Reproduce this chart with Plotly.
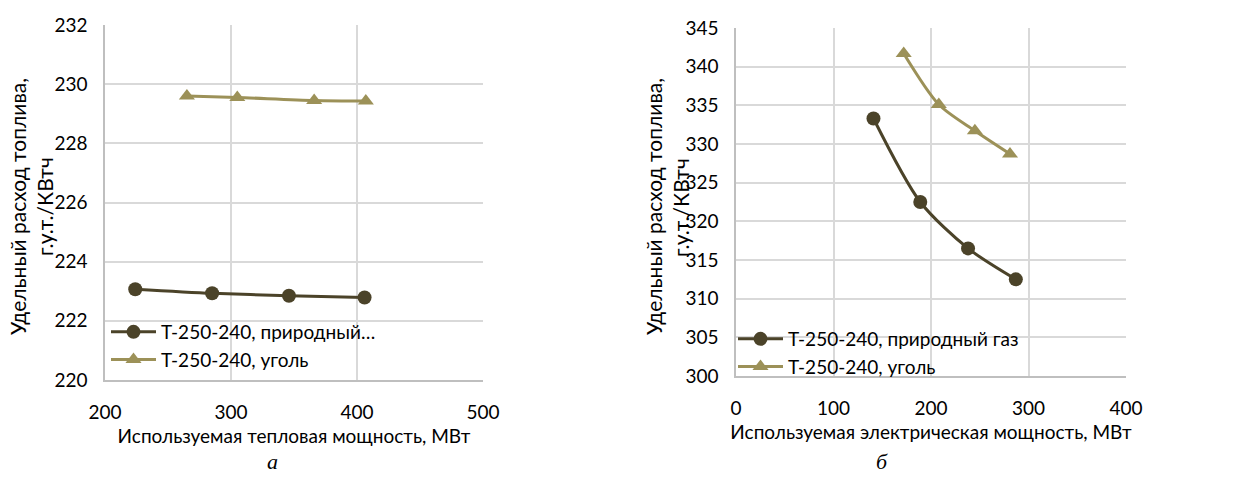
import plotly.graph_objects as go

# Left chart (a): heat power
heat_gas_x = [224, 285, 346, 406]
heat_gas_y = [223.07, 222.93, 222.85, 222.79]
heat_coal_x = [265, 305, 366, 407]
heat_coal_y = [229.60, 229.55, 229.45, 229.43]

# Right chart (б): electric power
el_gas_x = [141, 189, 238, 287]
el_gas_y = [333.3, 322.5, 316.5, 312.5]
el_coal_x = [172, 208, 245, 281]
el_coal_y = [341.7, 335.1, 331.7, 328.7]

name_gas_left = "Т-250-240, природный…"
name_gas = "Т-250-240, природный газ"
name_coal = "Т-250-240, уголь"

ytitle_1 = "Удельный расход топлива,"
ytitle_2 = "г.у.т./КВтч"

C_GAS = "#4B4329"
C_COAL = "#9C9158"
FONT = "Lato"
GRID = "#D9D9D9"

fig = go.Figure()

def add(x, y, name, color, symbol, xa, ya, legend):
    fig.add_trace(go.Scatter(
        x=x, y=y, name=name, mode="lines+markers",
        line=dict(color=color, width=3, shape="spline", smoothing=0.8),
        marker=dict(color=color, symbol=symbol, size=14),
        xaxis=xa, yaxis=ya, legend=legend))

add(heat_gas_x, heat_gas_y, name_gas_left, C_GAS, "circle", "x", "y", "legend")
add(heat_coal_x, heat_coal_y, name_coal, C_COAL, "triangle-up", "x", "y", "legend")
add(el_gas_x, el_gas_y, name_gas, C_GAS, "circle", "x2", "y2", "legend2")
add(el_coal_x, el_coal_y, name_coal, C_COAL, "triangle-up", "x2", "y2", "legend2")

ax_common = dict(showgrid=True, gridcolor=GRID, gridwidth=1.5, zeroline=False,
                 showline=True, linecolor="#BFBFBF", linewidth=1.5, ticks="",
                 automargin=False,
                 tickfont=dict(family=FONT, size=19, color="#000"))

W, H = 1237, 477

def ytitle_ann(text, px, py=207):
    return dict(text=text, x=px / W, y=1 - py / H, xref="paper", yref="paper",
                showarrow=False, textangle=-90, xanchor="center", yanchor="middle",
                font=dict(family=FONT, size=21, color="#000"))

fig.update_layout(
    width=W, height=H,
    margin=dict(l=0, r=0, t=0, b=0, autoexpand=False),
    paper_bgcolor="white", plot_bgcolor="white",
    font=dict(family=FONT, color="#000"),
    xaxis=dict(domain=[105/W, 483/W], range=[200, 500], dtick=100,
               anchor="y", ticklabelstandoff=14,
               title=dict(text="Используемая тепловая мощность, МВт",
                          font=dict(family=FONT, size=19), standoff=8),
               **ax_common),
    yaxis=dict(domain=[1-380/H, 1-25/H], range=[220, 232], dtick=2,
               anchor="x", ticklabelstandoff=12, **ax_common),
    xaxis2=dict(domain=[736/W, 1126/W], range=[0, 400], dtick=100,
                anchor="y2", ticklabelstandoff=14,
                title=dict(text="Используемая электрическая мощность, МВт",
                           font=dict(family=FONT, size=19), standoff=8),
                **ax_common),
    yaxis2=dict(domain=[1-376/H, 1-28/H], range=[300, 345], dtick=5,
                anchor="x2", ticklabelstandoff=12, **ax_common),
    legend=dict(x=106/W, y=1-313/H, xanchor="left", yanchor="top",
                bgcolor="rgba(0,0,0,0)", font=dict(family=FONT, size=19),
                tracegroupgap=0, itemwidth=45),
    legend2=dict(x=733/W, y=1-320/H, xanchor="left", yanchor="top",
                 bgcolor="rgba(0,0,0,0)", font=dict(family=FONT, size=19),
                 tracegroupgap=0, itemwidth=45),
    annotations=[
        ytitle_ann(ytitle_1, 17),
        ytitle_ann(ytitle_2, 44),
        ytitle_ann(ytitle_1, 653),
        ytitle_ann(ytitle_2, 680),
        dict(text="<i>а</i>", x=265/W, y=1-461/H, xref="paper", yref="paper",
             showarrow=False, font=dict(family="Liberation Serif", size=22),
             yanchor="middle"),
        dict(text="<i>б</i>", x=890/W, y=1-461/H, xref="paper", yref="paper",
             showarrow=False, font=dict(family="Liberation Serif", size=22),
             yanchor="middle"),
    ],
)

fig.write_html("out.html", config={"displayModeBar": False},
               post_script="document.body.style.margin='0px';document.body.style.overflow='hidden';")
